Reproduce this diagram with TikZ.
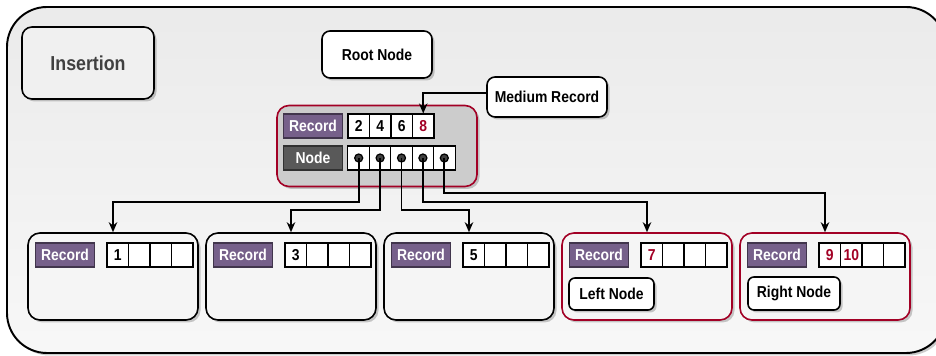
\documentclass[tikz,border=0pt]{standalone}
\usepackage{fontspec}
\setmainfont{Liberation Sans}[FakeStretch=0.88]
\usetikzlibrary{arrows.meta,positioning,shadows}
\definecolor{recpurple}{HTML}{76608A}
\definecolor{nodegray}{HTML}{595959}
\definecolor{darkred}{HTML}{A20025}
\definecolor{boxfill}{HTML}{F5F5F5}
\definecolor{rootfill}{HTML}{CCCCCC}

\begin{document}
\begin{tikzpicture}[
    x=0.2mm, y=-0.2mm,
    font=\bfseries\fontsize{9}{10.8}\selectfont,
    shade/.style={drop shadow={shadow xshift=0.5mm, shadow yshift=-0.5mm, fill=black, opacity=0.2}},
    rbox/.style={draw=#1, line width=0.9pt, rounded corners=2.4mm, fill=boxfill, shade,
                 minimum width=34mm, minimum height=17.4mm, inner sep=0pt},
    wbox/.style={draw, line width=0.9pt, rounded corners=1.6mm, fill=white, shade, inner sep=0pt},
    lbl/.style={draw=#1!55!black, fill=#1, text=white, line width=0.6pt,
                minimum width=11.8mm, minimum height=4.8mm, inner sep=0pt},
    cell/.style={draw, fill=white, line width=0.6pt, minimum width=4.3mm,
                 minimum height=4.8mm, inner sep=0pt},
    arr/.style={-{Stealth[length=2mm,width=1.7mm]}, line width=1.1pt}
]
\useasboundingbox (0,0) rectangle (936,356);
\clip (0,0) rectangle (936,356);

\draw[line width=1.1pt, rounded corners=8mm, top color=black!8, bottom color=black!3, shade]
    (7,7) rectangle (946,353);

\node[wbox, rounded corners=2mm, fill=black!6, minimum width=26.4mm, minimum height=14.4mm,
      font=\bfseries\fontsize{11.5}{13}\selectfont, text=black!75] (ins) at (88,63) {Insertion};
\node[wbox, minimum width=22mm, minimum height=9.4mm] (root) at (377,54.5) {Root Node};

\node[rbox=darkred, fill=rootfill, minimum width=40mm, minimum height=16.2mm] (rootbox) at (377,146) {};
\node[lbl=recpurple] (rootrec) at (313,126) {Record};
\node[lbl=nodegray] (rootnode) at (313,158) {Node};
\foreach \k/\v in {1/2, 2/4, 3/6, 4/\textcolor{darkred}{8}}
    \node[cell] (rec\k) at ({348+21.5*(\k-0.5)},126) {\v};
\foreach \k in {1,...,5} {
    \node[cell] (ptr\k) at ({348+21.4*(\k-0.5)},158) {};
    \filldraw[fill=black!75, line width=0.7pt] (ptr\k.center) circle[radius=0.8mm];
}

\node[wbox, minimum width=24mm, minimum height=8mm] (med) at (547,97) {Medium Record};
\draw[arr] (med.west |- 0,93) -| (rec4.north);

\foreach \i/\cx/\bc/\va/\vb in {1/113/black/1/, 2/291/black/3/, 3/469/black/5/,
        4/647/darkred/\textcolor{darkred}{7}/, 5/825/darkred/\textcolor{darkred}{9}/\textcolor{darkred}{10}} {
    \node[rbox=\bc] (ch\i) at (\cx,276.5) {};
    \node[lbl=recpurple] (chrec\i) at (\cx-48,255) {Record};
    \node[cell] (ch\i-1) at (\cx+4.75,255) {\va};
    \node[cell] (ch\i-2) at (\cx+26.25,255) {\vb};
    \node[cell] (ch\i-3) at (\cx+47.75,255) {};
    \node[cell] (ch\i-4) at (\cx+69.25,255) {};
}
\node[wbox, rounded corners=1.2mm, minimum width=17mm, minimum height=6.4mm] (left) at (611.5,294) {Left Node};
\node[wbox, rounded corners=1.2mm, minimum width=18.4mm, minimum height=6.6mm] (right) at (794,293.5) {Right Node};

\draw[arr] (ptr1.center) -- ++(0,44) -| (ch1.north);
\draw[arr] (ptr2.center) -- ++(0,52) -| (ch2.north);
\draw[arr] (ptr3.center) -- ++(0,52) -| (ch3.north);
\draw[arr] (ptr4.center) -- ++(0,44) -| (ch4.north);
\draw[arr] (ptr5.center) -- ++(0,35) -| (ch5.north);
\end{tikzpicture}
\end{document}
